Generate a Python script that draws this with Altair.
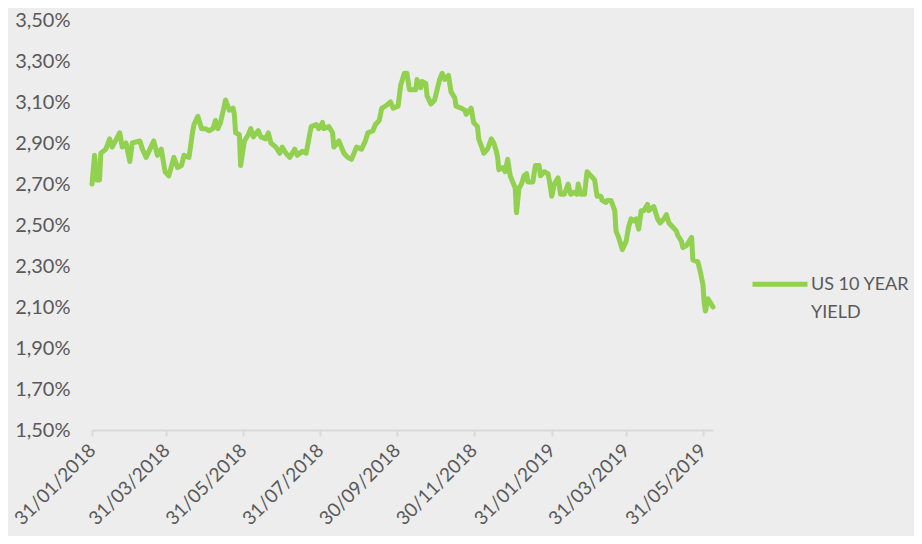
import altair as alt
import pandas as pd

SERIES_NAME = "US 10 YEAR YIELD"

DATES = [
    "2018-01-31", "2018-02-02", "2018-02-04", "2018-02-06", "2018-02-07", "2018-02-11",
    "2018-02-14", "2018-02-16", "2018-02-22", "2018-02-24", "2018-02-27", "2018-03-02",
    "2018-03-04", "2018-03-10", "2018-03-12", "2018-03-15", "2018-03-18", "2018-03-21",
    "2018-03-24", "2018-03-27", "2018-03-30", "2018-04-02", "2018-04-06", "2018-04-09",
    "2018-04-12", "2018-04-14", "2018-04-18", "2018-04-21", "2018-04-22", "2018-04-25",
    "2018-04-28", "2018-05-01", "2018-05-04", "2018-05-07", "2018-05-09", "2018-05-11",
    "2018-05-13", "2018-05-16", "2018-05-17", "2018-05-20", "2018-05-23", "2018-05-24",
    "2018-05-25", "2018-05-28", "2018-05-29", "2018-06-01", "2018-06-04", "2018-06-06",
    "2018-06-08", "2018-06-12", "2018-06-14", "2018-06-18", "2018-06-20", "2018-06-22",
    "2018-06-26", "2018-06-29", "2018-07-01", "2018-07-04", "2018-07-07", "2018-07-11",
    "2018-07-13", "2018-07-17", "2018-07-20", "2018-07-24", "2018-07-28", "2018-07-30",
    "2018-08-02", "2018-08-03", "2018-08-07", "2018-08-10", "2018-08-11", "2018-08-15",
    "2018-08-19", "2018-08-22", "2018-08-25", "2018-08-29", "2018-09-02", "2018-09-05",
    "2018-09-07", "2018-09-11", "2018-09-13", "2018-09-16", "2018-09-18", "2018-09-21",
    "2018-09-25", "2018-09-27", "2018-10-01", "2018-10-03", "2018-10-06", "2018-10-08",
    "2018-10-10", "2018-10-13", "2018-10-15", "2018-10-16", "2018-10-19", "2018-10-20",
    "2018-10-23", "2018-10-24", "2018-10-27", "2018-10-30", "2018-11-01", "2018-11-03",
    "2018-11-05", "2018-11-07", "2018-11-10", "2018-11-12", "2018-11-15", "2018-11-16",
    "2018-11-20", "2018-11-23", "2018-11-24", "2018-11-28", "2018-11-30", "2018-12-03",
    "2018-12-04", "2018-12-07", "2018-12-08", "2018-12-11", "2018-12-14", "2018-12-16",
    "2018-12-18", "2018-12-19", "2018-12-20", "2018-12-23", "2018-12-25", "2018-12-27",
    "2018-12-29", "2018-12-31", "2019-01-02", "2019-01-03", "2019-01-05", "2019-01-07",
    "2019-01-09", "2019-01-11", "2019-01-12", "2019-01-16", "2019-01-18", "2019-01-21",
    "2019-01-22", "2019-01-25", "2019-01-28", "2019-01-29", "2019-01-31", "2019-02-02",
    "2019-02-05", "2019-02-07", "2019-02-10", "2019-02-13", "2019-02-15", "2019-02-18",
    "2019-02-20", "2019-02-21", "2019-02-23", "2019-02-26", "2019-02-28", "2019-03-03",
    "2019-03-06", "2019-03-08", "2019-03-11", "2019-03-12", "2019-03-15", "2019-03-16",
    "2019-03-19", "2019-03-22", "2019-03-23", "2019-03-25", "2019-03-28", "2019-03-31",
    "2019-04-02", "2019-04-04", "2019-04-06", "2019-04-08", "2019-04-10", "2019-04-12",
    "2019-04-14", "2019-04-17", "2019-04-18", "2019-04-22", "2019-04-25", "2019-04-27",
    "2019-04-30", "2019-05-02", "2019-05-04", "2019-05-07", "2019-05-10", "2019-05-11",
    "2019-05-14", "2019-05-15", "2019-05-18", "2019-05-22", "2019-05-23", "2019-05-27",
    "2019-05-29", "2019-05-31", "2019-06-01", "2019-06-02", "2019-06-04", "2019-06-06",
    "2019-06-08",
]

YIELDS = [
    2.70, 2.84, 2.72, 2.72, 2.85, 2.87,
    2.92, 2.88, 2.95, 2.88, 2.90, 2.81,
    2.90, 2.91, 2.87, 2.83, 2.87, 2.91,
    2.84, 2.87, 2.76, 2.74, 2.83, 2.78,
    2.79, 2.84, 2.83, 2.96, 2.99, 3.03,
    2.97, 2.97, 2.96, 2.97, 3.01, 2.97,
    3.00, 3.08, 3.11, 3.06, 3.07, 3.04,
    2.95, 2.94, 2.79, 2.91, 2.94, 2.97,
    2.93, 2.96, 2.93, 2.92, 2.95, 2.90,
    2.88, 2.85, 2.88, 2.85, 2.83, 2.87,
    2.84, 2.86, 2.85, 2.98, 2.99, 2.97,
    3.00, 2.97, 2.98, 2.95, 2.88, 2.91,
    2.85, 2.83, 2.82, 2.88, 2.87, 2.91,
    2.95, 2.96, 2.99, 3.01, 3.07, 3.08,
    3.10, 3.07, 3.08, 3.18, 3.24, 3.24,
    3.16, 3.16, 3.16, 3.21, 3.17, 3.20,
    3.19, 3.13, 3.09, 3.11, 3.16, 3.21,
    3.24, 3.21, 3.23, 3.15, 3.12, 3.08,
    3.07, 3.06, 3.04, 3.07, 3.00, 2.98,
    2.92, 2.87, 2.85, 2.87, 2.92, 2.90,
    2.86, 2.83, 2.77, 2.78, 2.76, 2.82,
    2.74, 2.71, 2.68, 2.56, 2.68, 2.70,
    2.74, 2.75, 2.71, 2.71, 2.79, 2.79,
    2.74, 2.76, 2.75, 2.72, 2.64, 2.70,
    2.73, 2.65, 2.65, 2.70, 2.65, 2.66,
    2.65, 2.70, 2.65, 2.65, 2.76, 2.74,
    2.72, 2.64, 2.64, 2.62, 2.61, 2.62,
    2.62, 2.57, 2.47, 2.44, 2.38, 2.42,
    2.49, 2.53, 2.52, 2.53, 2.48, 2.57,
    2.57, 2.60, 2.57, 2.59, 2.53, 2.51,
    2.53, 2.55, 2.51, 2.49, 2.47, 2.45,
    2.42, 2.39, 2.40, 2.44, 2.33, 2.32,
    2.27, 2.21, 2.12, 2.08, 2.14, 2.12,
    2.10,
]

X_TICK_DATES = ["2018-01-31", "2018-03-31", "2018-05-31", "2018-07-31", "2018-09-30",
                "2018-11-30", "2019-01-31", "2019-03-31", "2019-05-31"]
X_DOMAIN = ["2018-01-31", "2019-06-08"]
Y_TICKS = [1.5, 1.7, 1.9, 2.1, 2.3, 2.5, 2.7, 2.9, 3.1, 3.3, 3.5]
Y_DOMAIN = [1.5, 3.5]

LINE_COLOR = "#92D050"
TEXT_COLOR = "#595959"
AXIS_COLOR = "#D9D9D9"
BG = "#EDEDED"
FONT = "Lato"


def dt(s):
    y, m, d = (int(p) for p in s.split("-"))
    return alt.DateTime(year=y, month=m, date=d, utc=True)


df = pd.DataFrame({"date": DATES, "yield": YIELDS, "series": SERIES_NAME})

chart = (
    alt.Chart(df)
    .mark_line(strokeWidth=5, strokeJoin="round", strokeCap="round")
    .encode(
        x=alt.X(
            "date:T",
            scale=alt.Scale(type="utc", domain=[dt(s) for s in X_DOMAIN], nice=False),
            axis=alt.Axis(
                title=None,
                values=[dt(s) for s in X_TICK_DATES],
                labelExpr="utcFormat(datum.value, '%d/%m/%Y')",
                labelAngle=-45,
                labelAlign="right",
                labelBaseline="middle",
                labelFont=FONT,
                labelFontSize=19,
                labelColor=TEXT_COLOR,
                labelPadding=11,
                labelOverlap=False,
                labelBound=False,
                labelFlush=False,
                domainColor=AXIS_COLOR,
                domainWidth=2,
                tickColor=AXIS_COLOR,
                tickWidth=2,
                tickSize=6,
                grid=False,
            ),
        ),
        y=alt.Y(
            "yield:Q",
            scale=alt.Scale(domain=Y_DOMAIN, nice=False, zero=False),
            axis=alt.Axis(
                title=None,
                values=Y_TICKS,
                labelExpr="replace(format(datum.value, '.2f'), '.', ',') + '%'",
                labelFont=FONT,
                labelFontSize=20,
                labelColor=TEXT_COLOR,
                labelPadding=22,
                labelOverlap=False,
                labelFlush=False,
                ticks=False,
                domain=False,
                grid=False,
            ),
        ),
        color=alt.Color(
            "series:N",
            scale=alt.Scale(range=[LINE_COLOR]),
            legend=alt.Legend(
                title=None,
                orient="none",
                legendX=658,
                legendY=226,
                symbolType="M-1,0.3L1,0.3",
                symbolSize=3025,
                symbolStrokeWidth=5,
                symbolStrokeColor=LINE_COLOR,
                symbolFillColor="transparent",
                labelExpr="['US 10 YEAR', 'YIELD']",
                labelFont=FONT,
                labelFontSize=18,
                labelColor=TEXT_COLOR,
                labelBaseline="top",
                labelOffset=1,
                labelLimit=300,
                padding=0,
            ),
        ),
    )
    .properties(
        width=621,
        height=410,
        background=BG,
        padding={"left": 84, "top": 12, "right": 201, "bottom": 106},
        autosize=alt.AutoSizeParams(type="none"),
    )
    .configure(style={"guide-label": {"lineHeight": 28}})
    .configure_view(strokeWidth=0)
)

chart.save("out.html", embed_options={"renderer": "svg", "actions": False})
